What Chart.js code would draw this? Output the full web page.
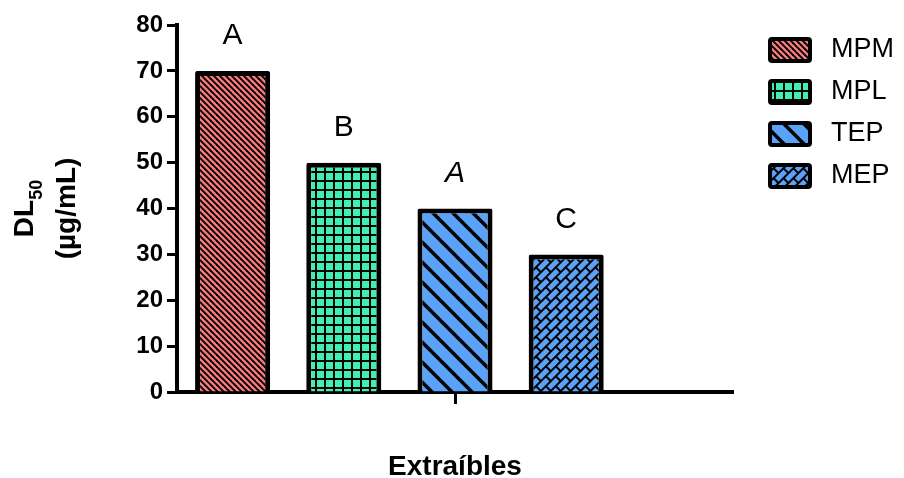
<!DOCTYPE html>
<html><head><meta charset="utf-8">
<script src="https://cdn.jsdelivr.net/npm/chart.js@4.4.1/dist/chart.umd.min.js"></script>
<style>html,body{margin:0;padding:0;background:#fff}</style>
</head><body>
<canvas id="c" width="904" height="478"></canvas>
<script>
// ---- data ----
const categories = [''];
const seriesNames = ['MPM', 'MPL', 'TEP', 'MEP'];
const seriesValues = [70, 50, 40, 30];
const groupLetters = ['A', 'B', 'A', 'C'];
const letterItalic = [false, false, true, false];
const yTickMin = 0, yTickMax = 80, yTickStep = 10;
const xTitle = 'Extraíbles';
const yTitleMain = 'DL', yTitleSub = '50', yTitleUnit = '(µg/mL)';

const FONT = '"Liberation Sans", Arial, sans-serif';

// ---- patterns ----
function tile(w, h, bg, draw) {
  const c = document.createElement('canvas');
  c.width = w; c.height = h;
  const g = c.getContext('2d');
  g.fillStyle = bg; g.fillRect(0, 0, w, h);
  g.strokeStyle = '#000'; g.fillStyle = '#000';
  draw(g, w, h);
  return c;
}
const pctx = document.createElement('canvas').getContext('2d');
function backDiag(bg, s, lw) {
  const t = tile(s, s, bg, (g) => {
    g.lineWidth = lw;
    for (const o of [-s, 0, s]) {
      g.beginPath(); g.moveTo(o - 2, -2); g.lineTo(o + s + 2, s + 2); g.stroke();
    }
  });
  return pctx.createPattern(t, 'repeat');
}
function gridPat(bg, s, lw) {
  const t = tile(s, s, bg, (g) => {
    g.fillRect(0, 0, s, lw); g.fillRect(0, 0, lw, s);
  });
  return pctx.createPattern(t, 'repeat');
}
function brickPat(bg) {
  const w = 14, h = 14, r = 7, lw = 2;
  const t = tile(w, h, bg, (g) => {
    g.fillRect(0, 0, w, lw);
    g.fillRect(0, r, w, lw);
    g.fillRect(0, 0, lw, r);
    g.fillRect(w / 2, r, lw, r);
  });
  const p = pctx.createPattern(t, 'repeat');
  p.setTransform(new DOMMatrix().rotate(-45));
  return p;
}
const fills = [
  backDiag('#F87A7A', 6, 1.9),
  gridPat('#40EFB2', 9, 2),
  backDiag('#5AA2F8', 20, 3.5),
  brickPat('#5AA2F8')
];

// ---- datasets ----
const datasets = seriesNames.map((name, i) => ({
  label: name,
  data: [seriesValues[i]],
  backgroundColor: fills[i],
  borderColor: '#000',
  borderWidth: 5,
  borderRadius: 2,
  barPercentage: 0.675,
  categoryPercentage: 1
}));
// empty slot to the right of the group (as in the original layout)
datasets.push({ label: '', data: [null], backgroundColor: 'rgba(0,0,0,0)', barPercentage: 0.675, categoryPercentage: 1 });

// ---- plugins ----
const lettersPlugin = {
  id: 'letters',
  afterDatasetsDraw(chart) {
    const ctx = chart.ctx;
    ctx.save();
    ctx.fillStyle = '#000';
    ctx.textAlign = 'center';
    ctx.textBaseline = 'middle';
    groupLetters.forEach((L, i) => {
      const el = chart.getDatasetMeta(i).data[0];
      ctx.font = (letterItalic[i] ? 'italic ' : '') + '30px ' + FONT;
      ctx.fillText(L, el.x, el.y - 35);
    });
    ctx.restore();
  }
};
const legendPlugin = {
  id: 'sideLegend',
  afterDraw(chart) {
    const ctx = chart.ctx;
    ctx.save();
    seriesNames.forEach((name, i) => {
      const y0 = 39 + i * 42;
      ctx.beginPath();
      ctx.roundRect(770, y0, 40, 22, 2);
      ctx.fillStyle = chart.data.datasets[i].backgroundColor;
      ctx.fill();
      ctx.lineWidth = 4; ctx.strokeStyle = '#000';
      ctx.stroke();
      ctx.fillStyle = '#000';
      ctx.font = '27px ' + FONT;
      ctx.textBaseline = 'middle';
      ctx.textAlign = 'left';
      ctx.fillText(name, 831, y0 + 11);
    });
    ctx.restore();
  }
};
const yTitlePlugin = {
  id: 'yTitle',
  afterDraw(chart) {
    const ctx = chart.ctx;
    const cy = (chart.chartArea.top + chart.chartArea.bottom) / 2;
    ctx.save();
    ctx.fillStyle = '#000';
    ctx.textBaseline = 'alphabetic';
    ctx.translate(33, cy);
    ctx.rotate(-Math.PI / 2);
    ctx.font = 'bold 28px ' + FONT;
    const w1 = ctx.measureText(yTitleMain).width;
    ctx.font = 'bold 18px ' + FONT;
    const w2 = ctx.measureText(yTitleSub).width;
    const x0 = -(w1 + w2) / 2;
    ctx.font = 'bold 28px ' + FONT;
    ctx.textAlign = 'left';
    ctx.fillText(yTitleMain, x0, 0);
    ctx.font = 'bold 18px ' + FONT;
    ctx.fillText(yTitleSub, x0 + w1, 9);
    ctx.font = 'bold 28px ' + FONT;
    ctx.textAlign = 'center';
    ctx.fillText(yTitleUnit, 0, 42);
    ctx.restore();
  }
};

new Chart(document.getElementById('c'), {
  type: 'bar',
  data: { labels: categories, datasets },
  plugins: [lettersPlugin, legendPlugin, yTitlePlugin],
  options: {
    responsive: false,
    animation: false,
    layout: { padding: { top: 25, right: 171, bottom: 0, left: 0 } },
    plugins: { legend: { display: false }, tooltip: { enabled: false } },
    scales: {
      x: {
        z: 1,
        offset: true,
        grid: { offset: false, drawOnChartArea: false, drawTicks: true, tickLength: 12, tickWidth: 3, tickColor: '#000' },
        border: { display: true, color: '#000', width: 4 },
        ticks: { display: true, font: { size: 1 } },
        title: { display: true, text: xTitle, color: '#000', font: { family: FONT, size: 28, weight: 'bold', lineHeight: 0.8 }, padding: { top: 0, bottom: 0 } },
        afterFit(s) { s.height = 86; }
      },
      y: {
        z: 1,
        min: yTickMin, max: yTickMax,
        ticks: { stepSize: yTickStep, color: '#000', padding: 4, font: { family: FONT, size: 24, weight: 'bold' } },
        grid: { drawOnChartArea: false, drawTicks: true, tickLength: 10, tickWidth: 3, tickColor: '#000' },
        border: { display: true, color: '#000', width: 4 },
        afterFit(s) { s.width = 177; }
      }
    }
  }
});
</script>
</body></html>
